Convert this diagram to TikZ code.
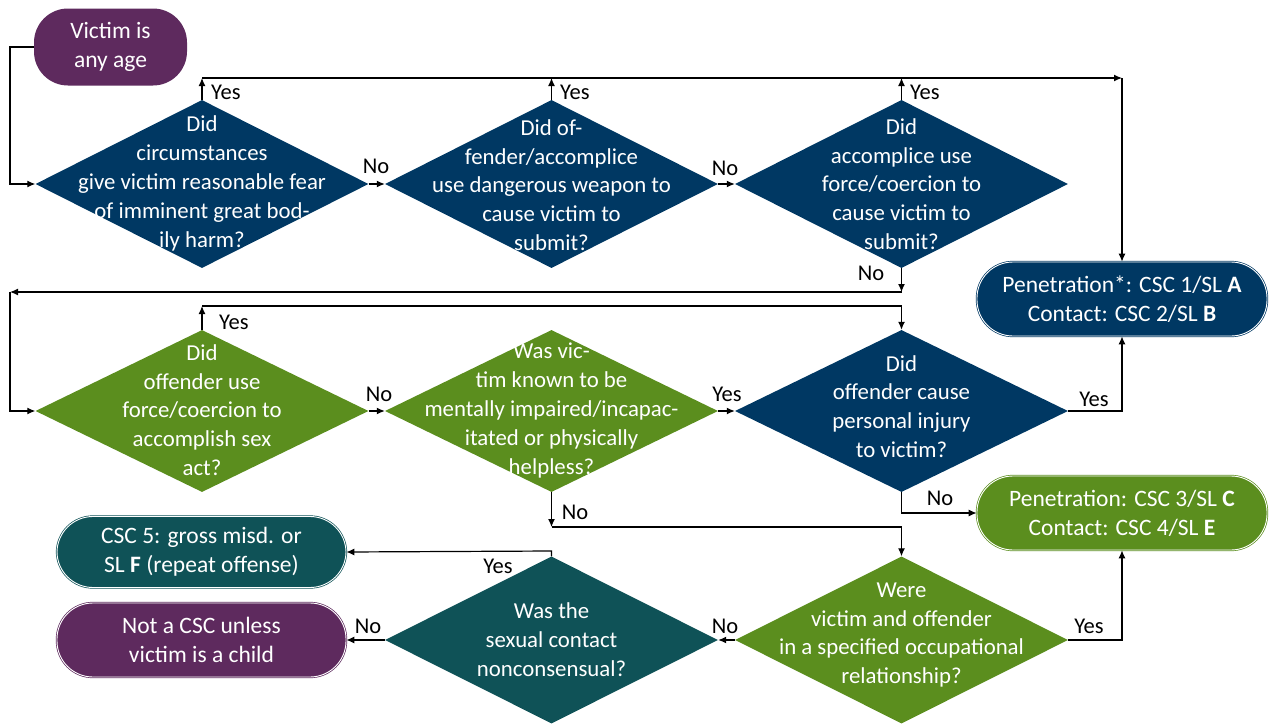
\documentclass[tikz,border=0pt]{standalone}
\usepackage{fontspec}
\setmainfont{Carlito}
\usetikzlibrary{shapes.geometric,arrows.meta}
\definecolor{dblue}{HTML}{003863}
\definecolor{dgreen}{HTML}{5B8E1E}
\definecolor{dteal}{HTML}{0F5257}
\definecolor{dpurple}{HTML}{5E2A5E}
\newcommand\mydfont{\fontsize{23.5}{29}\selectfont}
\newcommand\mydiafont{\fontsize{22.8}{28.8}\selectfont}
\newcommand\mylfont{\fontsize{22.5}{26}\selectfont}
\tikzset{
  dia/.style={diamond, minimum width=333pt, minimum height=#1, inner sep=0pt, draw=none},
  dtext/.style={text=white, align=center, font=\mydiafont, inner sep=0pt},
  term/.style={rectangle, rounded corners=36pt, minimum width=290pt, minimum height=74pt,
     inner sep=0pt, align=center, text=white, font=\mydfont,
     draw=#1, fill=#1, double=white, double distance=0.9pt, line width=0.7pt},
  arr/.style={draw=black, line width=1.2pt, -{Latex[length=8pt,width=7pt]}},
  lab/.style={font=\mylfont, inner sep=0pt, text=black},
}
\begin{document}
\begin{tikzpicture}[x=1pt,y=-1pt]
\useasboundingbox (0,0) rectangle (1272,726);
% start
\node[rectangle, rounded corners=34pt, minimum width=153pt, minimum height=77pt, fill=dpurple,
  text=white, align=center, font=\mydfont, inner sep=0pt] (start) at (110.5,47) {Victim is\\any age};
% row 1
\node[dia=168pt, fill=dblue] (d1) at (202,184) {};
\node[dtext] (d1t) at (202,183.5) {Did\\circumstances\\give victim reasonable fear\\of imminent great bod-\\ily harm?};
\node[dia=168pt, fill=dblue] (d2) at (551.5,184) {};
\node[dtext] (d2t) at (551.5,185) {Did of-\\fender/accomplice\\use dangerous weapon to\\cause victim to\\submit?};
\node[dia=168pt, fill=dblue] (d3) at (901.5,184) {};
\node[dtext] (d3t) at (901.5,184) {Did\\accomplice use\\force/coercion to\\cause victim to\\submit?};
% row 2
\node[dia=162pt, fill=dgreen] (d4) at (202,411) {};
\node[dtext] (d4t) at (202,410) {Did\\offender use\\force/coercion to\\accomplish sex\\act?};
\node[dia=162pt, fill=dgreen] (d5) at (551.5,411) {};
\node[dtext] (d5t) at (551.5,410.5) {Was vic-\\tim known to be\\mentally impaired/incapac-\\itated or physically\\helpless?};
\node[dia=162pt, fill=dblue] (d6) at (901.5,411) {};
\node[dtext] (d6t) at (901.5,406.5) {Did\\offender cause\\personal injury\\to victim?};
% row 3
\node[dia=167pt, fill=dgreen] (d7) at (901.5,640) {};
\node[dtext] (d7t) at (901.5,635) {Were\\victim and offender\\in a specified occupational\\relationship?};
\node[dia=167pt, fill=dteal] (d8) at (551.5,640) {};
\node[dtext] (d8t) at (551.5,639.5) {Was the\\sexual contact\\nonconsensual?};
% terminals
\node[term=dblue] (t1) at (1122,299) {Penetration*: CSC 1/SL \textbf{A}\\Contact: CSC 2/SL \textbf{B}};
\node[term=dgreen] (t2) at (1122,513) {Penetration: CSC 3/SL \textbf{C}\\Contact: CSC 4/SL \textbf{E}};
\node[term=dteal, minimum width=289pt, minimum height=71pt] (t3) at (201.5,552) {CSC 5: gross misd. or\\SL \textbf{F} (repeat offense)};
\node[term=dpurple, minimum width=289pt] (t4) at (201.5,640) {Not a CSC unless\\victim is a child};
% coordinates
\coordinate (c0) at (10,47);
\coordinate (y1) at (202,78);
\coordinate (y2) at (551.5,78);
\coordinate (y3) at (901.5,78);
\coordinate (tr) at (1122,78);
\coordinate (n3) at (901.5,292);
\coordinate (lf) at (10,292);
\coordinate (y4) at (202,306);
\coordinate (n5) at (551.5,527);
\coordinate (t3r) at (551.5,551);
% connectors
\draw[arr] (start.west) -- (c0) |- (d1.west);
\draw[arr] (d1.east) -- (d2.west);
\draw[arr] (d2.east) -- (d3.west);
\draw[arr] (d1.north) -- (y1);
\draw[arr] (d2.north) -- (y2);
\draw[arr] (d3.north) -- (y3);
\draw[arr] (y1) -- (tr);
\draw[arr] (tr) -- (t1.north);
\draw[arr] (d3.south) -- (n3);
\draw[arr] (n3) -- (lf);
\draw[arr] (lf) |- (d4.west);
\draw[arr] (d4.north) -- (y4);
\draw[arr] (y4) -| (d6.north);
\draw[arr] (d4.east) -- (d5.west);
\draw[arr] (d5.east) -- (d6.west);
\draw[arr] (d6.east) -| (t1.south);
\draw[arr] (d6.south) |- (t2.west);
\draw[arr] (d5.south) -- (n5);
\draw[arr] (n5) -| (d7.north);
\draw[arr] (d7.east) -| (t2.south);
\draw[arr] (d7.west) -- (d8.east);
\draw[arr] (d8.north) -- (t3r) -- (t3.east);
\draw[arr] (d8.west) -- (t4.east);
% labels
\node[lab, anchor=west] (l1) at (211,92) {Yes};
\node[lab, anchor=west] (l2) at (560,92) {Yes};
\node[lab, anchor=west] (l3) at (910,92) {Yes};
\node[lab] (l4) at (376,166) {No};
\node[lab] (l5) at (725,168) {No};
\node[lab] (l6) at (871,273) {No};
\node[lab, anchor=west] (l7) at (219,322) {Yes};
\node[lab] (l8) at (379,394) {No};
\node[lab] (l9) at (727,394) {Yes};
\node[lab] (l10) at (1094,399) {Yes};
\node[lab] (l11) at (940,498) {No};
\node[lab] (l12) at (575,512) {No};
\node[lab] (l13) at (1089,626) {Yes};
\node[lab] (l14) at (725,626) {No};
\node[lab] (l15) at (498,566) {Yes};
\node[lab] (l16) at (368,626) {No};
\end{tikzpicture}
\end{document}
